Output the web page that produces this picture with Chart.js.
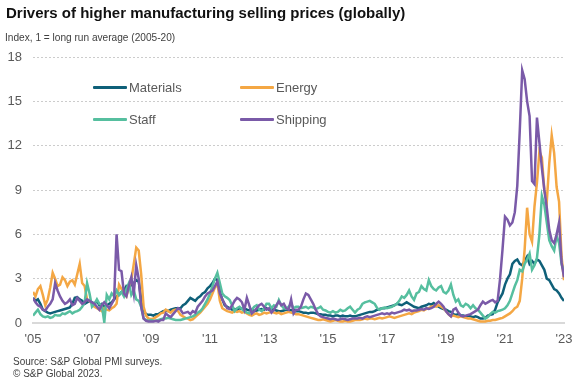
<!DOCTYPE html>
<html>
<head>
<meta charset="utf-8">
<script src="https://cdn.jsdelivr.net/npm/chart.js@4.4.1/dist/chart.umd.min.js"></script>
<style>
  body { margin: 0; background: #fff; font-family: "Liberation Sans", Arial, sans-serif; }
  #page { position: relative; width: 587px; height: 384px; overflow: hidden; }
  #chart { position: absolute; left: 0; top: 0; }
  .title { position: absolute; left: 6px; top: 4px; font-size: 15px; line-height: 17px; font-weight: bold; color: #111; white-space: nowrap; }
  .subtitle { position: absolute; left: 5px; top: 30px; font-size: 11px; line-height: 14px; color: #404040; white-space: nowrap; transform: scaleX(0.92); transform-origin: 0 0; }
  .source { position: absolute; left: 13px; top: 356px; font-size: 10px; line-height: 11.5px; color: #404040; white-space: nowrap; }
  .leg { position: absolute; height: 16px; font-size: 13px; line-height: 16px; color: #595959; white-space: nowrap; }
  .leg span.sw { position: absolute; left: 0; top: 6px; width: 34px; height: 3px; border-radius: 1px; }
  .leg span.tx { position: absolute; left: 36px; top: 0; }
</style>
</head>
<body>
<div id="page">
  <canvas id="chart" width="587" height="384"></canvas>
  <div class="title">Drivers of higher manufacturing selling prices (globally)</div>
  <div class="subtitle">Index, 1 = long run average (2005-20)</div>
  <div id="legend"></div>
  <div class="source">Source: S&amp;P Global PMI surveys.<br>© S&amp;P Global 2023.</div>
</div>
<script>
// monthly, Jan 2005 .. Jan 2023
const startYear = 2005;

const materials = [
  1.7, 1.5, 1.6, 1.3, 0.9, 0.8, 0.7, 0.65, 0.7, 0.75, 0.8, 0.85,
  0.9, 0.95, 1.0, 1.05, 1.3, 1.7, 1.75, 1.6, 1.5, 1.3, 1.4, 1.5,
  1.4, 1.3, 1.5, 1.2, 1.3, 1.1, 1.2, 1.3, 1.4, 1.6, 1.8, 1.9,
  2.1, 2.2, 2.5, 2.4, 2.6, 2.7, 2.9, 2.8, 1.6, 0.8, 0.6, 0.55,
  0.55, 0.5, 0.6, 0.6, 0.7, 0.8, 0.85, 0.8, 0.9, 0.95, 1.0, 1.0,
  1.0, 1.2, 1.3, 1.5, 1.7, 1.6, 1.5, 1.7, 1.8, 2.0, 2.1, 2.35,
  2.5, 2.7, 3.0, 2.9, 2.1, 1.6, 1.2, 1.1, 1.0, 0.9, 0.95, 0.9,
  1.0, 0.95, 1.0, 0.9, 0.85, 0.9, 0.8, 0.85, 0.9, 0.95, 0.9, 1.0,
  0.9, 0.95, 0.9, 0.85, 0.8, 0.8, 0.85, 0.9, 0.9, 0.85, 0.9, 0.8,
  0.8, 0.75, 0.7, 0.7, 0.65, 0.7, 0.7, 0.65, 0.6, 0.6, 0.55, 0.55,
  0.5, 0.5, 0.45, 0.5, 0.5, 0.45, 0.5, 0.45, 0.45, 0.5, 0.45, 0.45,
  0.5, 0.55, 0.6, 0.65, 0.7, 0.75, 0.75, 0.8, 0.9, 0.95, 1.0, 1.0,
  1.05, 1.1, 1.15, 1.2, 1.3, 1.25, 1.2, 1.3, 1.4, 1.3, 1.2, 1.1,
  1.05, 1.0, 1.1, 1.15, 1.2, 1.3, 1.25, 1.35, 1.2, 1.1, 1.0, 0.95,
  0.9, 0.8, 0.75, 0.6, 0.55, 0.6, 0.5, 0.5, 0.45, 0.5, 0.45, 0.4,
  0.45, 0.4, 0.3, 0.3, 0.35, 0.5, 0.55, 0.6, 0.9, 1.4, 1.7, 2.0,
  2.6, 3.0, 3.3, 4.0, 4.2, 4.3, 4.0, 3.9, 4.2, 4.5, 4.0, 4.2,
  4.0, 4.3, 4.2, 3.9, 3.6, 3.0, 2.9, 2.6, 2.3, 2.2, 2.0, 1.7,
  1.5
];

const energy = [
  2.1, 1.8, 2.3, 2.5, 1.9, 1.2, 1.6, 2.4, 3.4, 3.0, 2.5, 2.6,
  3.1, 2.9, 2.5, 2.8, 2.9, 2.6, 3.3, 4.0, 2.7, 2.5, 1.6, 1.5,
  1.3, 1.1, 1.0, 0.9, 0.8, 1.0, 0.9, 0.85, 1.0, 1.1, 1.3, 2.6,
  2.3, 2.0, 1.8, 2.4, 2.9, 4.0, 5.1, 4.9, 3.3, 1.1, 0.5, 0.3,
  0.25, 0.3, 0.4, 0.5, 0.65, 0.7, 0.9, 0.8, 0.7, 0.85, 0.9, 0.8,
  0.55, 0.45, 0.35, 0.3, 0.2, 0.25, 0.4, 0.55, 0.7, 0.9, 1.1, 1.3,
  1.6, 2.0, 2.4, 2.7, 1.5, 1.0, 0.9, 0.8, 0.75, 0.7, 0.8, 0.75,
  0.8, 0.7, 0.75, 0.65, 0.55, 0.5, 0.6, 0.65, 0.55, 0.6, 0.7, 0.65,
  0.7, 0.75, 0.7, 0.65, 0.7, 0.6, 0.65, 0.7, 0.75, 0.7, 0.65, 0.6,
  0.6, 0.55, 0.5, 0.45, 0.4, 0.35, 0.3, 0.25, 0.2, 0.2, 0.25, 0.2,
  0.15, 0.1, 0.15, 0.2, 0.15, 0.1, 0.1, 0.15, 0.1, 0.1, 0.15, 0.2,
  0.2, 0.2, 0.25, 0.3, 0.25, 0.3, 0.3, 0.25, 0.3, 0.35, 0.3, 0.35,
  0.4, 0.45, 0.4, 0.35, 0.4, 0.45, 0.5, 0.55, 0.6, 0.65, 0.6, 0.7,
  0.75, 0.8, 0.9, 0.85, 0.95, 1.0, 1.1, 1.15, 1.1, 1.2, 1.1, 1.0,
  0.8, 0.6, 0.45, 0.5, 0.45, 0.4, 0.45, 0.4, 0.35, 0.3, 0.3, 0.25,
  0.2, 0.15, 0.1, 0.1, 0.1, 0.15, 0.15, 0.2, 0.2, 0.25, 0.3, 0.35,
  0.45, 0.55, 0.65, 0.8, 1.0, 1.1, 1.5, 3.0, 5.0, 7.8, 6.0, 5.5,
  7.9, 9.5, 11.6, 11.2, 9.0, 8.2, 10.8, 12.7, 11.5, 9.2, 8.2, 4.5,
  2.9
];

const staff = [
  0.5, 0.7, 0.9, 0.6, 0.45, 0.4, 0.45, 0.35, 0.4, 0.55, 0.5, 0.5,
  0.65, 0.6, 0.7, 0.8, 0.65, 0.75, 0.8, 0.9, 1.1, 1.4, 2.7, 2.0,
  1.1, 1.3, 1.6, 1.3, 1.2, 0.05, 1.9, 1.6, 2.0, 1.8, 2.2, 1.9,
  2.1, 1.8, 2.3, 2.7, 1.9, 2.2, 1.6, 1.5, 1.1, 0.3, 0.2, 0.15,
  0.2, 0.15, 0.15, 0.2, 0.25, 0.3, 0.3, 0.35, 0.3, 0.25, 0.2, 0.2,
  0.2, 0.25, 0.3, 0.35, 0.4, 0.45, 0.55, 0.7, 0.8, 1.0, 1.3, 1.6,
  2.0, 2.5, 3.0, 3.4, 2.7, 2.0, 1.8, 1.7, 1.56, 1.2, 0.8, 1.0,
  1.1, 0.95, 0.8, 0.7, 0.65, 0.9, 1.1, 1.2, 0.9, 0.8, 1.0, 1.3,
  1.3, 1.0, 1.2, 1.1, 1.56, 1.2, 1.0, 0.95, 1.1, 1.3, 1.0, 1.1,
  1.1, 1.0, 1.05, 1.1, 1.0, 1.1, 1.05, 0.95, 1.0, 1.1, 0.9, 0.85,
  0.75, 0.7, 0.8, 0.7, 0.75, 0.9, 0.8, 0.85, 1.0, 1.1, 0.9, 0.7,
  0.9, 1.0, 1.3, 1.4, 1.45, 1.5, 1.4, 1.3, 1.0, 0.9, 1.0, 1.05,
  1.0, 1.05, 1.1, 1.2, 1.3, 1.5, 1.8, 1.7, 1.9, 2.2, 1.8, 1.56,
  2.0, 2.1, 2.5, 2.3, 2.2, 2.9, 2.5, 2.3, 2.2, 2.4, 2.5, 2.1,
  2.0, 2.2, 2.6, 1.9, 1.45, 1.6, 1.2, 1.1, 1.3, 1.2, 1.0, 1.2,
  1.0, 0.9, 0.7, 0.5, 0.3, 0.4, 0.6, 0.75, 0.7, 0.8, 0.85, 0.9,
  1.0, 1.2, 1.5, 2.0, 2.5, 2.9, 3.6, 3.5, 4.0, 4.3, 4.7, 3.6,
  3.9, 4.4, 6.0, 8.6, 8.0, 6.8, 5.6, 5.2, 4.9, 5.9, 5.4, 4.0,
  3.4
];

const shipping = [
  1.7, 1.4, 1.2, 1.1, 0.9, 0.85, 1.1, 1.3, 1.6, 2.7, 2.2, 1.8,
  1.5, 1.3, 1.4, 1.6, 1.2, 1.3, 1.7, 1.5, 1.3, 1.4, 1.6, 1.5,
  1.4, 1.3, 1.1, 0.9, 1.2, 1.4, 1.2, 1.0, 1.3, 1.6, 6.0, 3.6,
  3.5, 2.0, 1.8, 2.5, 3.1, 2.0, 3.9, 3.0, 1.1, 0.3, 0.15, 0.1,
  0.1, 0.1, 0.15, 0.1, 0.2, 0.2, 0.65, 0.5, 0.4, 0.6, 0.8, 1.0,
  0.9, 0.65, 0.7, 0.75, 0.6, 0.8, 0.7, 1.1, 1.3, 1.5, 1.8, 2.0,
  2.1, 2.2, 2.5, 2.8, 2.0, 1.6, 1.3, 1.0, 0.95, 1.2, 1.5, 1.7,
  1.6, 1.4, 0.9, 1.7, 1.2, 0.65, 0.8, 1.0, 1.2, 1.3, 1.1, 0.9,
  1.0, 0.7, 0.9, 1.2, 1.45, 1.2, 1.3, 1.0, 0.9, 1.6, 0.65, 0.9,
  0.9, 1.1, 1.6, 2.0, 1.9, 1.6, 1.3, 0.9, 0.6, 0.45, 0.4, 0.35,
  0.3, 0.25, 0.3, 0.25, 0.2, 0.25, 0.3, 0.25, 0.2, 0.25, 0.3, 0.3,
  0.3, 0.35, 0.3, 0.4, 0.45, 0.4, 0.45, 0.5, 0.55, 0.6, 0.65, 0.6,
  0.65, 0.6, 0.7, 0.65, 0.7, 0.75, 0.8, 0.9, 0.85, 0.9, 0.8, 0.85,
  0.85, 0.9, 0.95, 0.9, 1.0, 0.95, 1.0, 1.1, 1.3, 1.45, 1.3, 1.1,
  0.8, 0.6, 0.45, 0.9, 1.0, 0.7, 0.5, 0.45, 0.5, 0.55, 0.6, 0.7,
  0.8, 0.9, 1.2, 1.45, 1.3, 1.4, 1.5, 1.56, 1.4, 1.5, 3.0, 5.0,
  7.2, 7.0, 6.6, 6.8, 7.5, 9.3, 13.0, 17.1, 16.5, 15.0, 14.0, 9.6,
  9.4, 13.9, 12.2, 10.5, 9.0, 7.8, 6.3, 5.6, 5.4, 6.0, 6.8, 4.1,
  3.1
];

const seriesNames = ["Materials", "Energy", "Staff", "Shipping"];
const tickYears = [2005, 2007, 2009, 2011, 2013, 2015, 2017, 2019, 2021, 2023];
const tickLabels = ["'05", "'07", "'09", "'11", "'13", "'15", "'17", "'19", "'21", "'23"];
const yTicks = [0, 3, 6, 9, 12, 15, 18];

const colors = ["#0f6079", "#f4a744", "#56bf9f", "#7a5aa8"];
const allSeries = [materials, energy, staff, shipping];

Chart.defaults.font.family = "'Liberation Sans', Arial, sans-serif";

const datasets = allSeries.map((vals, i) => ({
    label: seriesNames[i],
    data: vals.map((v, k) => ({ x: startYear + k / 12, y: v })),
    borderColor: colors[i],
    backgroundColor: colors[i],
    borderWidth: 2.5,
    pointRadius: 0,
    tension: 0,
    order: 4 - i
}));

new Chart(document.getElementById("chart"), {
    type: "line",
    data: { datasets: datasets },
    options: {
        responsive: false,
        animation: false,
        layout: { padding: { left: 0, right: 23, top: 57, bottom: 31 } },
        plugins: { legend: { display: false }, tooltip: { enabled: false } },
        scales: {
            x: {
                type: "linear",
                min: tickYears[0],
                max: tickYears[tickYears.length - 1],
                afterBuildTicks: s => { s.ticks = tickYears.map(v => ({ value: v })); },
                afterFit: s => { s.height = 30; },
                ticks: {
                    callback: (v) => tickLabels[tickYears.indexOf(v)],
                    color: "#595959",
                    font: { size: 13 },
                    padding: 9,
                    maxRotation: 0
                },
                grid: { display: false, drawTicks: false },
                border: { display: true, color: "#d9d9d9", width: 2 }
            },
            y: {
                min: 0,
                max: 18,
                afterBuildTicks: s => { s.ticks = yTicks.map(v => ({ value: v })); },
                afterFit: s => { s.width = 33; },
                ticks: { color: "#595959", font: { size: 13 }, padding: 11 },
                grid: { color: "#cccccc", lineWidth: 1, drawTicks: false },
                border: { display: false, dash: [2, 2] }
            }
        }
    }
});

// legend, two columns
const legend = document.getElementById("legend");
seriesNames.forEach((name, i) => {
    const item = document.createElement("div");
    item.className = "leg";
    item.style.left = (93 + (i % 2) * 147) + "px";
    item.style.top = (80 + Math.floor(i / 2) * 31.5) + "px";
    item.innerHTML = '<span class="sw" style="background:' + colors[i] + '"></span><span class="tx">' + name + '</span>';
    legend.appendChild(item);
});
</script>
</body>
</html>
